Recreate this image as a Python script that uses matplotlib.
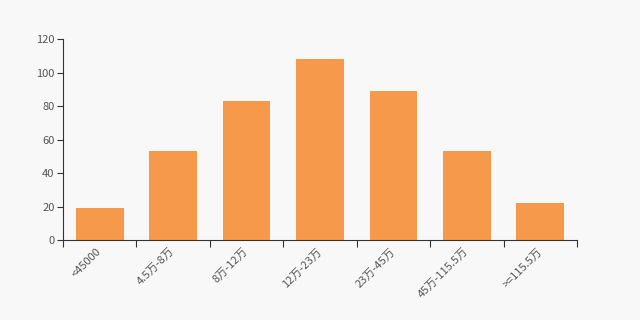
import numpy as np
import matplotlib
matplotlib.use("Agg")
import matplotlib.pyplot as plt

plt.rcParams['font.family'] = ['Noto Sans CJK SC', 'DejaVu Sans']

categories = ["<45000", "4.5万-8万", "8万-12万", "12万-23万", "23万-45万", "45万-115.5万", ">=115.5万"]
counts = [19, 53, 83, 108, 89, 53, 22]
yticks = [0, 20, 40, 60, 80, 100, 120]

bg = "#f8f8f8"
bar_color = "#f7994a"
axis_color = "#333333"
label_color = "#555555"

fig = plt.figure(figsize=(6.4, 3.2), dpi=100, facecolor=bg)
ax = fig.add_axes([0.0984, 0.25, 0.8032, 0.628])
ax.set_facecolor(bg)

x = np.arange(len(categories))
ax.bar(x, counts, width=0.65, color=bar_color)

ax.set_xlim(-0.5, len(categories) - 0.5)
ax.set_ylim(0, 120)
ax.set_yticks(yticks)
ax.set_yticklabels([str(v) for v in yticks])

ax.set_xticks(x)
ax.set_xticklabels(categories, rotation=45, ha="right", va="center", rotation_mode="anchor")
ax.set_xticks(np.arange(len(categories) + 1) - 0.5, minor=True)
ax.tick_params(axis="x", which="major", length=0, pad=7, labelsize=8, labelcolor=label_color)
ax.tick_params(axis="x", which="minor", length=5, color=axis_color, width=0.8)
ax.tick_params(axis="y", length=4, color=axis_color, width=0.8, labelsize=8, labelcolor=label_color, pad=2)

for side in ["top", "right"]:
    ax.spines[side].set_visible(False)
for side in ["left", "bottom"]:
    ax.spines[side].set_color(axis_color)
    ax.spines[side].set_linewidth(0.8)

fig.savefig("out.png", dpi=100, facecolor=bg)
